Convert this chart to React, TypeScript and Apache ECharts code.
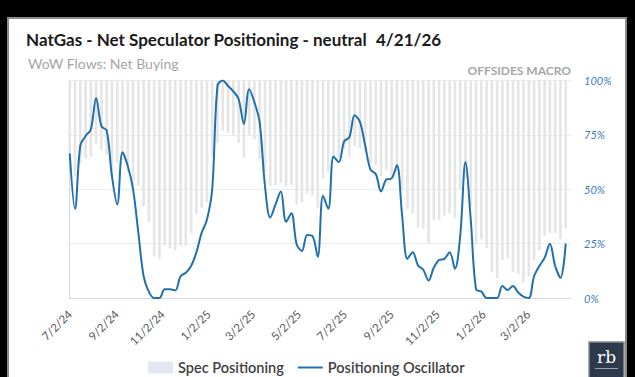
import React, { useEffect, useRef } from "react";
import * as echarts from "echarts";

// Positioning oscillator (% of range), weekly from 7/2/24 to 4/21/26
const oscillator = [
  66.5, 41, 70, 74.5, 77.5, 92, 79, 77, 56, 43,
  67, 60.7, 50, 30, 10, 2.8, 0, 0, 4, 4,
  3.5, 10, 11.6, 14.7, 21, 30, 36, 50, 97.5, 100,
  97.5, 95, 91.5, 80, 96, 90, 80.6, 51.5, 37, 43,
  49, 35, 39, 24.7, 21.6, 29, 28.5, 19, 47, 41,
  65, 62.5, 72, 74, 84, 81, 70, 59, 57, 49,
  54.5, 55, 61, 37.7, 18, 21, 15, 13, 8, 14,
  17.5, 18, 21, 13.5, 28.5, 62.5, 36, 4, 3, 0,
  0, 0, 5.5, 3.7, 5.5, 2.5, 0.6, 0, 10, 14.7,
  18.5, 25, 14.7, 9.3, 25,
];

// Spec positioning (net short, hanging from the top of the chart)
const specPositioning = [
  33, 44, 38, 36, 35, 29, 32, 34, 44, 38,
  35, 42, 48.5, 48.5, 57.7, 65, 81, 82, 76, 77,
  78, 76, 76, 70, 61.5, 58.5, 56, 35, 28.6, 23,
  24, 25, 28.6, 35.5, 25, 27, 36, 42, 48.5, 48,
  47, 48.5, 48, 57, 56, 52, 53, 58.5, 45, 42,
  36, 35.5, 31.6, 35, 30, 31, 31.6, 38, 39, 44,
  41, 44, 42, 50, 59, 61, 67.7, 68.4, 74.6, 64,
  64, 62, 61, 63, 50, 45, 58, 75, 73, 77,
  88, 91, 82.5, 81.6, 88, 89, 93, 90, 82.5, 78,
  71.5, 70, 70, 73, 68,
];

const xTickLabels = [
  "7/2/24", "9/2/24", "11/2/24", "1/2/25", "3/2/25", "5/2/25",
  "7/2/25", "9/2/25", "11/2/25", "1/2/26", "3/2/26",
];

const titleText = "NatGas - Net Speculator Positioning - neutral";
const titleDate = "4/21/26";
const subtitleText = "WoW Flows: Net Buying";
const brandText = "OFFSIDES MACRO";

const FONT = "Lato, 'Open Sans', sans-serif";

function parseMDY(s: string): number {
  const [m, d, y] = s.split("/").map(Number);
  return new Date(2000 + y, m - 1, d).getTime();
}
function fmtMDY(v: number): string {
  const d = new Date(v);
  return `${d.getMonth() + 1}/${d.getDate()}/${String(d.getFullYear()).slice(2)}`;
}

const weeks = oscillator.map((_, i) => new Date(2024, 6, 2 + 7 * i).getTime());

export default function App() {
  const ref = useRef<HTMLDivElement>(null);
  useEffect(() => {
    if (!ref.current) return;
    const chart = echarts.init(ref.current, undefined, { renderer: "svg" });
    chart.setOption({
      animation: false,
      backgroundColor: "#000000",
      graphic: [
        {
          type: "rect",
          shape: { x: 8, y: 18, width: 618, height: 372 },
          style: { fill: "#ffffff", stroke: "#8c8c8c", lineWidth: 2 },
          z: -10,
        },
        {
          type: "text",
          x: 26,
          y: 39,
          style: {
            text: titleText,
            font: `bold 17px ${FONT}`,
            fill: "#1a1a1a",
            textVerticalAlign: "middle",
          },
        },
        {
          type: "text",
          x: 376,
          y: 39,
          style: {
            text: titleDate,
            font: `bold 17px ${FONT}`,
            fill: "#1a1a1a",
            textVerticalAlign: "middle",
          },
        },
        {
          type: "text",
          x: 28,
          y: 63,
          style: {
            text: subtitleText,
            font: `14px ${FONT}`,
            fill: "#a6a6a6",
            textVerticalAlign: "middle",
          },
        },
        {
          type: "text",
          x: 571,
          y: 70,
          style: {
            text: brandText,
            font: `bold 12px ${FONT}`,
            fill: "#a6a6a6",
            textAlign: "right",
            textVerticalAlign: "middle",
          },
        },
        {
          type: "rect",
          shape: { x: 589, y: 342, width: 35, height: 37 },
          style: { fill: "#2c3a4b", stroke: "#8c8c8c", lineWidth: 1.5 },
        },
        {
          type: "text",
          x: 606.5,
          y: 357,
          style: {
            text: "rb",
            font: "17px 'DejaVu Serif', serif",
            fill: "#ffffff",
            textAlign: "center",
            textVerticalAlign: "middle",
          },
        },
        {
          type: "rect",
          shape: { x: 595, y: 368, width: 23, height: 1 },
          style: { fill: "#9aa4b0" },
        },
      ],
      legend: {
        left: 143,
        top: 355,
        itemWidth: 25,
        itemHeight: 12,
        itemGap: 14,
        textStyle: { fontSize: 14.5, color: "#404040", fontWeight: 600, fontFamily: FONT },
        data: [
          { name: "Spec Positioning", icon: "rect", itemStyle: { color: "#e3e8f0" } },
          { name: "Positioning Oscillator", icon: "path://M0,0 H25 V2 H0 Z" },
        ],
      },
      grid: { left: 69, right: 64, top: 80.5, bottom: 79, containLabel: false },
      xAxis: {
        type: "value",
        min: new Date(2024, 6, 1).getTime(),
        max: new Date(2026, 3, 28).getTime(),
        axisLine: { show: true, onZero: false, lineStyle: { color: "#d9d9d9", width: 1 } },
        axisTick: { show: false },
        splitLine: { show: false },
        axisLabel: {
          customValues: xTickLabels.map(parseMDY),
          formatter: (v: number) => fmtMDY(v),
          rotate: 45,
          margin: 14,
          color: "#595959",
          fontSize: 11.5,
          fontFamily: FONT,
        },
      },
      yAxis: [
        {
          type: "value",
          position: "right",
          min: 0,
          max: 100,
          interval: 25,
          axisLine: { show: false },
          axisTick: { show: false },
          splitLine: { show: true, lineStyle: { color: "#ececec", width: 1 } },
          axisLabel: {
            formatter: (v: number) => `${v}%`,
            color: "#3b7cbd",
            fontStyle: "italic",
            fontSize: 11,
            fontFamily: FONT,
            margin: 13,
          },
        },
        {
          type: "value",
          position: "left",
          min: -100,
          max: 0,
          axisLine: { show: true, onZero: false, lineStyle: { color: "#d9d9d9", width: 1 } },
          axisTick: { show: false },
          axisLabel: { show: false },
          splitLine: { show: false },
        },
      ],
      series: [
        {
          name: "Spec Positioning",
          type: "bar",
          yAxisIndex: 1,
          barWidth: 2.6,
          itemStyle: { color: "#e5e5e5" },
          data: weeks.map((t, i) => [t, -specPositioning[i]]),
        },
        {
          name: "Positioning Oscillator",
          type: "line",
          yAxisIndex: 0,
          smooth: 0.35,
          symbol: "none",
          lineStyle: { color: "#2170ae", width: 2 },
          itemStyle: { color: "#2170ae" },
          data: weeks.map((t, i) => [t, oscillator[i]]),
          z: 5,
        },
      ],
    });
    return () => chart.dispose();
  }, []);
  return (
    <div
      ref={ref}
      style={{ position: "fixed", left: 0, top: 0, width: 635, height: 377 }}
    />
  );
}
